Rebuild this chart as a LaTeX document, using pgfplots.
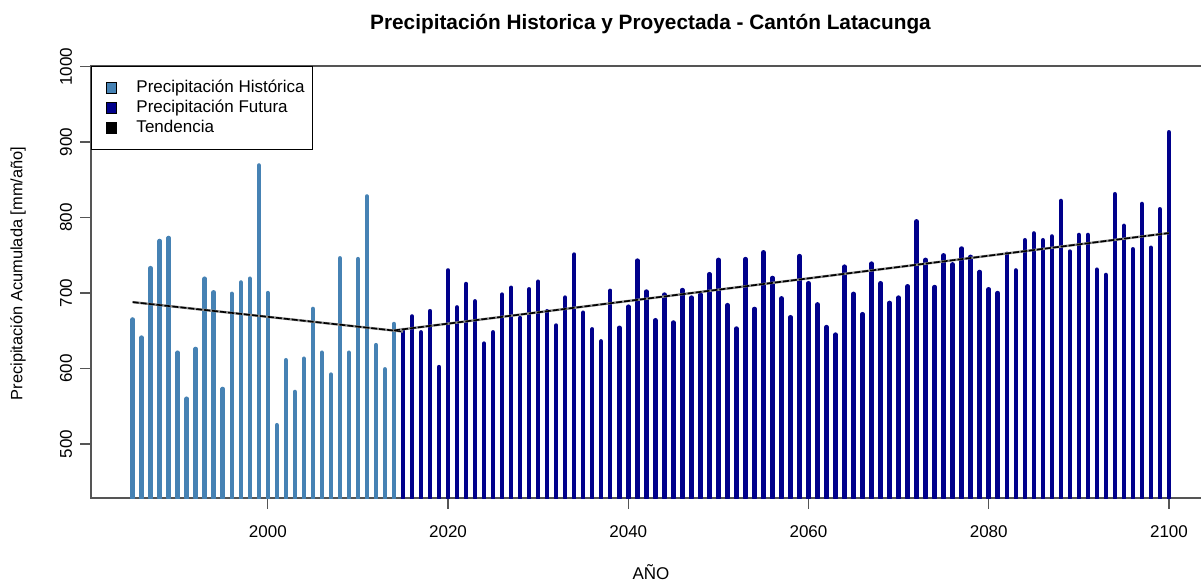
\documentclass[border=0pt]{standalone}
\usepackage{pgfplots}
\pgfplotsset{compat=1.18}
\usepackage{fontspec}
\setmainfont{Liberation Sans}
\definecolor{hist}{HTML}{4682B4}
\definecolor{fut}{HTML}{00008B}
\definecolor{frame}{HTML}{555555}
\begin{document}
\begin{tikzpicture}
\useasboundingbox (-45.5pt,-41pt) rectangle (555pt,249pt);
\begin{axis}[
  at={(0,0)}, anchor=south west,
  width=557pt, height=216pt, scale only axis,
  xmin=1980.38, xmax=2104.0, ymin=428.5, ymax=1000.8,
  axis line style={draw=frame, line width=0.6pt},
  xtick={2000,2020,2040,2060,2080,2100},
  ytick={500,600,700,800,900,1000},
  tick align=outside, major tick length=5.3pt,
  tick style={draw=frame, line width=0.6pt},
  xtick pos=bottom, ytick pos=left,
  /pgf/number format/assume math mode=true,
  /pgf/number format/1000 sep={},
  ticklabel style={font=\fontsize{8.5}{10}\selectfont},
  xticklabel style={anchor=north, inner sep=0pt, yshift=-8.25pt},
  yticklabel style={rotate=90, anchor=south, inner sep=0pt},
  yticklabel shift=4pt,
  legend style={at={(0,1)}, anchor=north west, draw=black, line width=0.5pt,
    fill=white, font=\fontsize{8.5}{10}\selectfont,
    inner xsep=4pt, inner ysep=6.75pt, row sep=2pt,
    nodes={inner sep=0pt, text height=6.2pt, text depth=1.8pt}},
  legend cell align=left,
]
\addlegendimage{legend image code/.code={\path[draw=none] (-3.5pt,0) -- (15pt,0); \draw[fill=hist, draw=black, line width=0.3pt] (-0.1pt,-2.6pt) rectangle (5.1pt,2.6pt);}}
\addlegendentry{Precipitación Histórica}
\addlegendimage{legend image code/.code={\path[draw=none] (-3.5pt,0) -- (15pt,0); \draw[fill=fut, draw=black, line width=0.3pt] (-0.1pt,-2.6pt) rectangle (5.1pt,2.6pt);}}
\addlegendentry{Precipitación Futura}
\addlegendimage{legend image code/.code={\path[draw=none] (-3.5pt,0) -- (15pt,0); \draw[fill=black, draw=black, line width=0.3pt] (-0.1pt,-2.6pt) rectangle (5.1pt,2.6pt);}}
\addlegendentry{Tendencia}

\addplot[ycomb, draw=hist, line width=2.25pt, line cap=round, forget plot] coordinates {
(1985,665) (1986,641) (1987,733) (1988,769) (1989,773) (1990,621) (1991,560) (1992,626)
(1993,719) (1994,701) (1995,573) (1996,699) (1997,714) (1998,719) (1999,869) (2000,700)
(2001,525) (2002,611) (2003,569) (2004,613) (2005,679) (2006,621) (2007,592) (2008,746)
(2009,621) (2010,745) (2011,828) (2012,631) (2013,599) (2014,659)
};
\addplot[ycomb, draw=fut, line width=2.25pt, line cap=round, forget plot] coordinates {
(2015,651) (2016,669) (2017,648) (2018,676) (2019,602) (2020,730) (2021,681) (2022,712)
(2023,689) (2024,633) (2025,648) (2026,698) (2027,707) (2028,667) (2029,705) (2030,715)
(2031,676) (2032,657) (2033,694) (2034,751) (2035,674) (2036,652) (2037,636) (2038,703)
(2039,654) (2040,682) (2041,743) (2042,702) (2043,664) (2044,698) (2045,661) (2046,704)
(2047,694) (2048,698) (2049,725) (2050,744) (2051,684) (2052,653) (2053,745) (2054,679)
(2055,754) (2056,720) (2057,693) (2058,668) (2059,749) (2060,713) (2061,685) (2062,655)
(2063,645) (2064,735) (2065,699) (2066,672) (2067,739) (2068,713) (2069,687) (2070,694)
(2071,709) (2072,795) (2073,744) (2074,708) (2075,750) (2076,738) (2077,759) (2078,748)
(2079,728) (2080,705) (2081,700) (2082,752) (2083,730) (2084,770) (2085,779) (2086,770)
(2087,775) (2088,822) (2089,755) (2090,777) (2091,777) (2092,731) (2093,724) (2094,831)
(2095,789) (2096,758) (2097,818) (2098,760) (2099,811) (2100,913)
};
\addplot[draw=black!45, line width=1.2pt, forget plot] coordinates {(1985,688) (2015,649)};
\addplot[draw=black, line width=0.8pt, dash pattern=on 3pt off 1pt, forget plot] coordinates {(1985,688) (2015,649)};
\addplot[draw=black!45, line width=1.2pt, forget plot] coordinates {(2014,650.5) (2100,779.5)};
\addplot[draw=black, line width=0.8pt, dash pattern=on 3pt off 1pt, forget plot] coordinates {(2014,650.5) (2100,779.5)};
\end{axis}
\node[font=\bfseries\fontsize{10.4}{12}\selectfont] at (279.75pt,237pt) {Precipitación Historica y Proyectada - Cantón Latacunga};
\node[font=\fontsize{8.5}{10}\selectfont] at (280pt,-37pt) {AÑO};
\node[font=\fontsize{8.2}{10}\selectfont, rotate=90] at (-36.5pt,112.25pt) {Precipitación Acumulada [mm/año]};
\end{tikzpicture}
\end{document}
